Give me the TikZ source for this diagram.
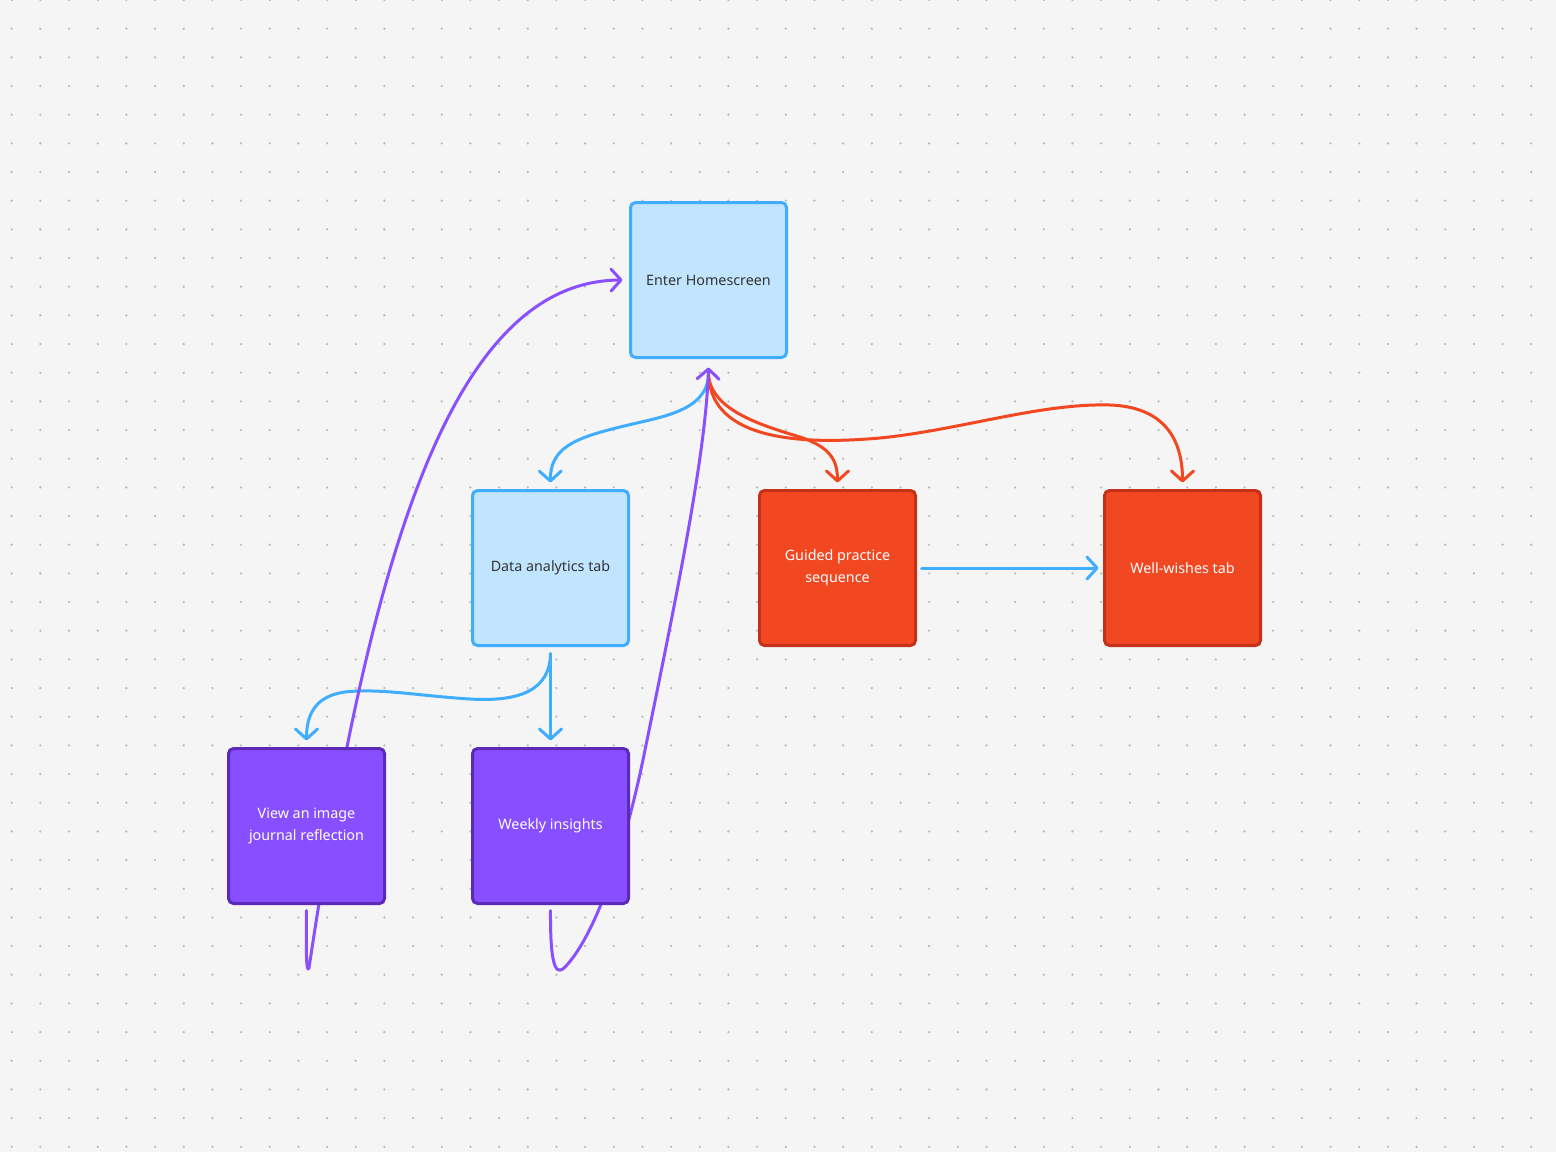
\documentclass[tikz,border=0pt]{standalone}
\usepackage{fontspec}
\setmainfont{Noto Sans}
\usetikzlibrary{arrows.meta}
\definecolor{bgc}{HTML}{F5F5F5}
\definecolor{dotc}{HTML}{BDBDBD}
\definecolor{bluefill}{HTML}{C2E5FF}
\definecolor{blueline}{HTML}{40ADFF}
\definecolor{redfill}{HTML}{F24822}
\definecolor{redline}{HTML}{C4311B}
\definecolor{redarrow}{HTML}{F24822}
\definecolor{purpfill}{HTML}{874FFF}
\definecolor{purpline}{HTML}{5B2BB8}
\definecolor{purparrow}{HTML}{8A4FFF}
\definecolor{darktext}{HTML}{333333}
\pgfdeclarelayer{back}
\pgfdeclarelayer{mid}
\pgfsetlayers{back,mid,main}
\tikzset{
  box/.style={rectangle, rounded corners=5pt, line width=3pt, minimum width=156pt, minimum height=155pt, inner sep=0pt, outer sep=0pt, align=center, font=\fontsize{14.3}{22}\selectfont},
  bluebox/.style={box, fill=bluefill, draw=blueline, text=darktext},
  redbox/.style={box, fill=redfill, draw=redline, text=white},
  purpbox/.style={box, fill=purpfill, draw=purpline, text=white},
  conn/.style={line width=3pt, line cap=round, line join=round, -{Straight Barb[length=10pt,width=22pt,round]}},
  bconn/.style={conn, draw=blueline},
  rconn/.style={conn, draw=redarrow},
  pconn/.style={conn, draw=purparrow}
}
\begin{document}
\begin{tikzpicture}[x=1pt,y=-1pt]
\useasboundingbox (0,0) rectangle (1556,1152);
\begin{pgfonlayer}{back}
\fill[bgc] (0,0) rectangle (1556,1152);
\foreach \i in {0,...,54} {
  \foreach \j in {0,...,40} {
    \fill[dotc] (11.7+28.67*\i, 28.67*\j) circle (1.3);
  }
}
\end{pgfonlayer}

\node[bluebox] (home) at (708.5,280) {Enter Homescreen};
\node[bluebox] (data) at (550.5,568) {Data analytics tab};
\node[redbox] (guided) at (837.5,568) {Guided practice\\ sequence};
\node[redbox] (well) at (1182.5,568) {Well-wishes tab};
\node[purpbox] (view) at (306.5,826) {View an image\\ journal reflection};
\node[purpbox] (weekly) at (550.5,826) {Weekly insights};

\begin{pgfonlayer}{mid}
% home -> data
\draw[bconn] ([yshift=-18pt]home.south) .. controls (706,412) and (660,417) .. (620,427)
  .. controls (575,438) and (550,448) .. ([yshift=8pt]data.north);
% home -> guided
\draw[rconn] ([yshift=-18pt]home.south) .. controls (712,410) and (760,425) .. (800,437)
  .. controls (830,447) and (837.5,460) .. ([yshift=8pt]guided.north);
% home -> well
\draw[rconn] ([yshift=-18pt]home.south) .. controls (712,440) and (800,445) .. (880,438)
  .. controls (960,430) and (1040,403) .. (1110,405)
  .. controls (1165,407) and (1182.5,440) .. ([yshift=8pt]well.north);
% data -> weekly
\draw[bconn] ([yshift=-8pt]data.south) -- ([yshift=8pt]weekly.north);
% data -> view
\draw[bconn] ([yshift=-8pt]data.south) .. controls (550,690) and (520,702) .. (470,699)
  .. controls (420,696) and (380,688) .. (345,692)
  .. controls (315,696) and (306.5,715) .. ([yshift=8pt]view.north);
% guided -> well
\draw[bconn] ([xshift=6pt]guided.east) -- ([xshift=-6pt]well.west);
% weekly -> home
\draw[pconn] ([yshift=-7pt]weekly.south) .. controls (550,975) and (558,975) .. (566,966)
  .. controls (595,935) and (625,850) .. (645,750)
  .. controls (680,580) and (706,450) .. ([yshift=-10pt]home.south);
% view -> home
\draw[pconn] ([yshift=-7pt]view.south) .. controls (306,945) and (306,975) .. (309,968)
  .. controls (370,560) and (450,281) .. ([xshift=-8pt]home.west);
\end{pgfonlayer}
\end{tikzpicture}
\end{document}
